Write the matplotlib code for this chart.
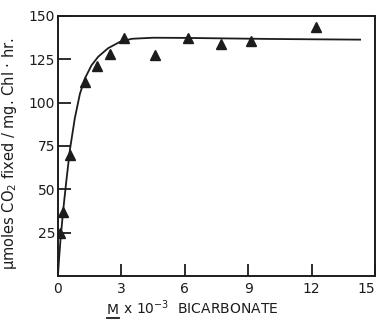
import matplotlib
matplotlib.use("Agg")
import matplotlib.pyplot as plt
from matplotlib.lines import Line2D

# measured points (mM bicarbonate, umol CO2 fixed / mg Chl / hr)
conc = [0.1, 0.24, 0.57, 1.28, 1.85, 2.46, 3.13, 4.6, 6.16, 7.7, 9.15, 12.2]
rate = [25, 37, 70, 112, 121, 128, 137.5, 127.5, 137.5, 134, 135.5, 143.5]

# hand-drawn saturation curve
curve_x = [0, 0.06, 0.13, 0.25, 0.4, 0.57, 0.8, 1.04, 1.28, 1.59, 1.91,
           2.38, 2.93, 3.5, 4.5, 6, 8, 10, 12, 14.3]
curve_y = [0, 11, 22, 38, 55, 73, 91, 105, 114, 121.5, 126.5,
           131.4, 135, 136.8, 137.4, 137.3, 137, 136.7, 136.5, 136.3]

xticks = [0, 3, 6, 9, 12, 15]
yticks = [25, 50, 75, 100, 125, 150]

ink = "#1c1c1c"
fs = 10

fig = plt.figure(figsize=(3.81, 3.24), dpi=100)
ax = fig.add_axes([0.152, 0.148, 0.832, 0.803])

ax.plot(curve_x, curve_y, color=ink, lw=1.3, zorder=2)
ax.plot(conc, rate, linestyle="none", marker="^", ms=6.5, color=ink, zorder=3)

ax.set_xlim(0, 15)
ax.set_ylim(0, 150)
ax.set_xticks(xticks)
ax.set_yticks(yticks)
ax.set_xticklabels([str(t) for t in xticks])
ax.set_yticklabels([str(t) for t in yticks])
ax.tick_params(direction="in", length=9, width=1.3, colors=ink,
               labelsize=fs, pad=2)
ax.tick_params(axis="x", pad=4)
ax.get_xticklabels()[-1].set_horizontalalignment("right")
for s in ax.spines.values():
    s.set_linewidth(1.4)
    s.set_color(ink)

ax.set_ylabel("μmoles CO$_2$ fixed / mg. Chl · hr.", fontsize=10.5, color=ink)
ax.yaxis.set_label_coords(-0.122, 0.47)

# x label: underlined M followed by the rest
lx, ly = 0.28, 0.03
m = fig.text(lx, ly, "M", fontsize=fs, color=ink)
fig.canvas.draw()
bb = m.get_window_extent().transformed(fig.transFigure.inverted())
fig.text(bb.x1, ly, r" x 10$^{-3}$  BICARBONATE", fontsize=fs, color=ink)
fig.add_artist(Line2D([bb.x0, bb.x1], [ly - 0.012, ly - 0.012],
                      transform=fig.transFigure, color=ink, lw=1.3))

fig.savefig("out.png", dpi=100)
